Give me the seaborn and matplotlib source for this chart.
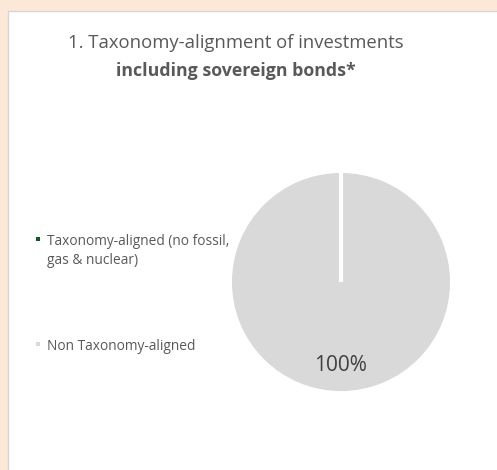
import matplotlib
matplotlib.use("Agg")
import matplotlib.pyplot as plt
import seaborn as sns
import numpy as np
from matplotlib.patches import Rectangle

# ---- data ----
categories = ["Taxonomy-aligned (no fossil,\ngas & nuclear)", "Non Taxonomy-aligned"]
values = [0, 100]
colors = ["#0E5A22", "#D9D9D9"]
title_line1 = "1. Taxonomy-alignment of investments"
title_line2 = "including sovereign bonds*"

sns.set_theme(style="white")
plt.rcParams['font.family'] = ['Open Sans', 'DejaVu Sans']

W, H = 497, 470
fig = plt.figure(figsize=(W / 100, H / 100), dpi=100)
fig.patch.set_facecolor("#FBE8D6")

def fx(px):
    return px / W

def fy(py):
    return 1 - py / H

# white panel with light border
panel = Rectangle((fx(8), -0.01), 1 - fx(8) + 0.02, fy(11) + 0.01, transform=fig.transFigure,
                  facecolor="white", edgecolor="#D6D6D6", lw=1.0, zorder=-5)
fig.patches.append(panel)

# pie axes: centre (341, 282), radius 111 px
cx, cy, r = 341, 282, 111
ax = fig.add_axes([fx(cx - r), fy(cy + r), 2 * r / W, 2 * r / H], zorder=2)
ax.set_facecolor("none")

def fmt(p):
    return f"{p:.0f}%" if p > 0 else ""

wedges, texts, autotexts = ax.pie(
    values, colors=colors, startangle=90, counterclock=False,
    autopct=fmt, pctdistance=0.75,
    wedgeprops=dict(edgecolor="white", linewidth=2.8),
    textprops=dict(color="#404040", fontsize=15),
)
# white separator edge of the zero-sized slice
for w, v in zip(wedges, values):
    if v == 0:
        a = np.deg2rad(w.theta1)
        ax.plot([w.center[0], w.center[0] + w.r * np.cos(a)],
                [w.center[1], w.center[1] + w.r * np.sin(a)],
                color="white", lw=3.0, solid_capstyle="butt", zorder=5)
ax.set_xlim(-1, 1)
ax.set_ylim(-1, 1)
ax.set_aspect("equal")
ax.axis("off")

# title
tc = "#595959"
fig.text(fx(236), fy(43), title_line1, ha="center", va="center", fontsize=13.3, color=tc)
fig.text(fx(236), fy(71), title_line2, ha="center", va="center", fontsize=12.8, color=tc,
         fontweight="bold")

# legend (manual, marker aligned with first line)
leg_y = [240, 345]
for cat, col, y in zip(categories, colors, leg_y):
    fig.patches.append(Rectangle((fx(36), fy(y + 1)), 4 / W, 4 / H, transform=fig.transFigure,
                                 facecolor=col, edgecolor="none", zorder=3))
    for i, line in enumerate(cat.split("\n")):
        fig.text(fx(47), fy(y + 1.5 + 19 * i), line, ha="left", va="center", fontsize=9.9,
                 color=tc)

fig.savefig("out.png", dpi=100, facecolor=fig.get_facecolor())
